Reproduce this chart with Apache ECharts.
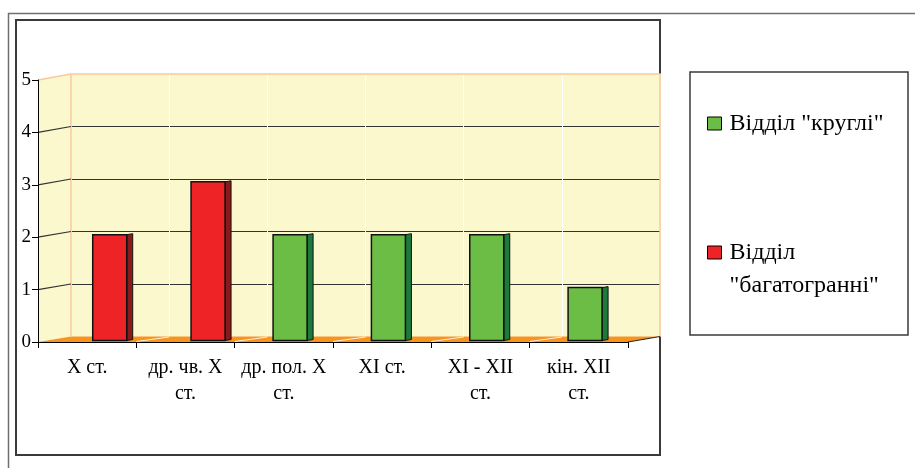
<!DOCTYPE html>
<html><head><meta charset="utf-8">
<script src="https://cdn.jsdelivr.net/npm/echarts@6/dist/echarts.min.js"></script>
<style>html,body{margin:0;padding:0;background:#fff}#c{width:915px;height:468px}</style>
</head><body><div id="c"></div>
<script>
// ---- data ----
const categories = ['X ст.', 'др. чв. X ст.', 'др. пол. X ст.', 'XI ст.', 'XI - XII ст.', 'кін. XII ст.'];
const seriesNames = ['Відділ "круглі"', 'Відділ "багатогранні"'];
const roundValues = [null, null, 2, 2, 2, 1];
const facetedValues = [2, 3, null, null, null, null];
const yMin = 0, yMax = 5, yInterval = 1;

// ---- layout / style ----
const FONT = '"Liberation Serif", "DejaVu Serif", serif';
const FRONT = {x0: 38, x1: 628, y0: 342, y1: 80};
const BACK = {x0: 71, x1: 660, y0: 336.5, y1: 74};
const WALL = '#FCF8CE', EDGE = '#F8C99C', FLOOR = '#F7941D', GRIDC = '#333';
const BAR_W = 34, BAR_D = 6, BAR_OFF = 8.15;

function fy(v) { return FRONT.y0 - (FRONT.y0 - FRONT.y1) * (v - yMin) / (yMax - yMin); }
function by(v) { return BACK.y0 - (BACK.y0 - BACK.y1) * (v - yMin) / (yMax - yMin); }

const graphics = [
  {type: 'rect', z: -100, shape: {x: 8.5, y: 13.5, width: 1000, height: 1000}, style: {fill: '#fff', stroke: '#6f6f6f', lineWidth: 1.5}},
  {type: 'rect', z: -99, shape: {x: 16, y: 20, width: 644, height: 435}, style: {fill: '#fff', stroke: '#3a3a3a', lineWidth: 2}},
  {type: 'rect', z: -99, shape: {x: 690, y: 72, width: 218, height: 263}, style: {fill: '#fff', stroke: '#3a3a3a', lineWidth: 1.5}},
  // side wall
  {type: 'polygon', z: 1, shape: {points: [[FRONT.x0, FRONT.y1], [BACK.x0, BACK.y1], [BACK.x0, BACK.y0], [FRONT.x0, FRONT.y0]]}, style: {fill: WALL}},
  // floor
  {type: 'polygon', z: 1, shape: {points: [[FRONT.x0, FRONT.y0], [BACK.x0, BACK.y0], [BACK.x1, BACK.y0], [FRONT.x1, FRONT.y0]]}, style: {fill: FLOOR}},
  // wall edges
  {type: 'polyline', z: 1, shape: {points: [[FRONT.x0, FRONT.y1], [BACK.x0, BACK.y1], [BACK.x1, BACK.y1], [BACK.x1, BACK.y0]]}, style: {fill: null, stroke: EDGE, lineWidth: 1.5}},
  {type: 'line', z: 1, shape: {x1: BACK.x0, y1: BACK.y1, x2: BACK.x0, y2: BACK.y0}, style: {stroke: EDGE, lineWidth: 1.5}},
  {type: 'line', z: 1, shape: {x1: BACK.x1, y1: BACK.y0, x2: FRONT.x1, y2: FRONT.y0}, style: {stroke: '#222', lineWidth: 1}}
];
for (let v = yMin + yInterval; v < yMax; v += yInterval) {
  graphics.push({type: 'line', z: 1, shape: {x1: FRONT.x0, y1: fy(v), x2: BACK.x0, y2: by(v)}, style: {stroke: GRIDC, lineWidth: 1.2}});
}
for (let i = 1; i < categories.length; i++) {
  const fx = FRONT.x0 + (FRONT.x1 - FRONT.x0) * i / categories.length;
  const bx = BACK.x0 + (BACK.x1 - BACK.x0) * i / categories.length;
  graphics.push({type: 'line', z: 1, shape: {x1: fx, y1: FRONT.y0 - 0.5, x2: bx, y2: BACK.y0 + 0.5}, style: {stroke: 'rgba(255,255,255,0.85)', lineWidth: 1}});
}

function barRenderer(offset, color, dark) {
  return function (params, api) {
    const idx = api.value(0), v = api.value(1);
    const top = api.coord([idx, v]);
    const base = api.coord([idx, 0]);
    const x0 = top[0] + offset - BAR_W / 2, x1 = x0 + BAR_W;
    return {
      type: 'group',
      children: [
        {type: 'polygon', shape: {points: [[x1, top[1]], [x1 + BAR_D, top[1] - 1], [x1 + BAR_D, base[1] - 1], [x1, base[1]]]},
          style: {fill: dark, stroke: '#111', lineWidth: 1}},
        {type: 'rect', shape: {x: x0, y: top[1], width: BAR_W, height: base[1] - top[1]},
          style: {fill: color, stroke: '#111', lineWidth: 1.5}}
      ]
    };
  };
}

const axisFont = {fontFamily: FONT, color: '#000'};
const option = {
  backgroundColor: '#fff',
  animation: false,
  graphic: {elements: graphics},
  grid: [
    {left: BACK.x0, top: BACK.y1, width: BACK.x1 - BACK.x0, height: BACK.y0 - BACK.y1, show: true, backgroundColor: WALL, borderWidth: 0, outerBoundsMode: 'none'},
    {left: FRONT.x0, top: FRONT.y1, width: FRONT.x1 - FRONT.x0, height: FRONT.y0 - FRONT.y1, outerBoundsMode: 'none'},
    {left: 52.4, top: 76, width: 590, height: 264.5, outerBoundsMode: 'none'}
  ],
  xAxis: [
    {gridIndex: 0, type: 'category', data: categories, axisLine: {show: false}, axisTick: {show: false}, axisLabel: {show: false},
      splitLine: {show: true, lineStyle: {color: 'rgba(255,255,255,0.95)', width: 1}}},
    {gridIndex: 1, type: 'category', data: categories, z: 3,
      axisLine: {show: true, lineStyle: {color: '#000', width: 1}},
      axisTick: {show: true, length: 6, lineStyle: {color: '#000'}},
      splitLine: {show: false},
      axisLabel: Object.assign({fontSize: 20, lineHeight: 26, margin: 13, interval: 0,
        formatter: n => n.length > 6 ? n.replace(/ ст\.$/, '\nст.') : n}, axisFont)},
    {gridIndex: 2, type: 'category', data: categories, show: false}
  ],
  yAxis: [
    {gridIndex: 0, type: 'value', min: yMin, max: yMax, interval: yInterval, axisLine: {show: false}, axisTick: {show: false}, axisLabel: {show: false},
      splitLine: {show: true, showMinLine: false, showMaxLine: false, lineStyle: {color: GRIDC, width: 1.2}}},
    {gridIndex: 1, type: 'value', min: yMin, max: yMax, interval: yInterval, z: 3,
      axisLine: {show: true, lineStyle: {color: '#000', width: 1}},
      axisTick: {show: true, length: 6, lineStyle: {color: '#000'}},
      splitLine: {show: false},
      axisLabel: Object.assign({fontSize: 19, margin: 7}, axisFont)},
    {gridIndex: 2, type: 'value', min: yMin, max: yMax, interval: yInterval, show: false}
  ],
  legend: {
    orient: 'vertical', left: 707, top: 107, padding: 0, itemGap: 63,
    itemWidth: 14, itemHeight: 13, icon: 'rect',
    selectedMode: false,
    itemStyle: {borderColor: '#000', borderWidth: 1},
    textStyle: {fontFamily: FONT, fontSize: 24, color: '#000', lineHeight: 33, padding: [0, 0, 0, 3]},
    formatter: n => n.length > 16 ? '\n' + n.replace(' ', '\n') : n,
    data: seriesNames
  },
  series: [
    {name: seriesNames[0], type: 'custom', xAxisIndex: 2, yAxisIndex: 2, z: 2,
      itemStyle: {color: '#6CBD45', borderColor: '#000'},
      renderItem: barRenderer(-BAR_OFF, '#6CBD45', '#1C7A3C'),
      encode: {x: 0, y: 1},
      data: roundValues.map((v, i) => [i, v]).filter(d => d[1] != null)},
    {name: seriesNames[1], type: 'custom', xAxisIndex: 2, yAxisIndex: 2, z: 2,
      itemStyle: {color: '#EE2326', borderColor: '#000'},
      renderItem: barRenderer(BAR_OFF, '#EE2326', '#8A1A1A'),
      encode: {x: 0, y: 1},
      data: facetedValues.map((v, i) => [i, v]).filter(d => d[1] != null)}
  ]
};
const chart = echarts.init(document.getElementById('c'));
chart.setOption(option);
</script>
</body></html>
